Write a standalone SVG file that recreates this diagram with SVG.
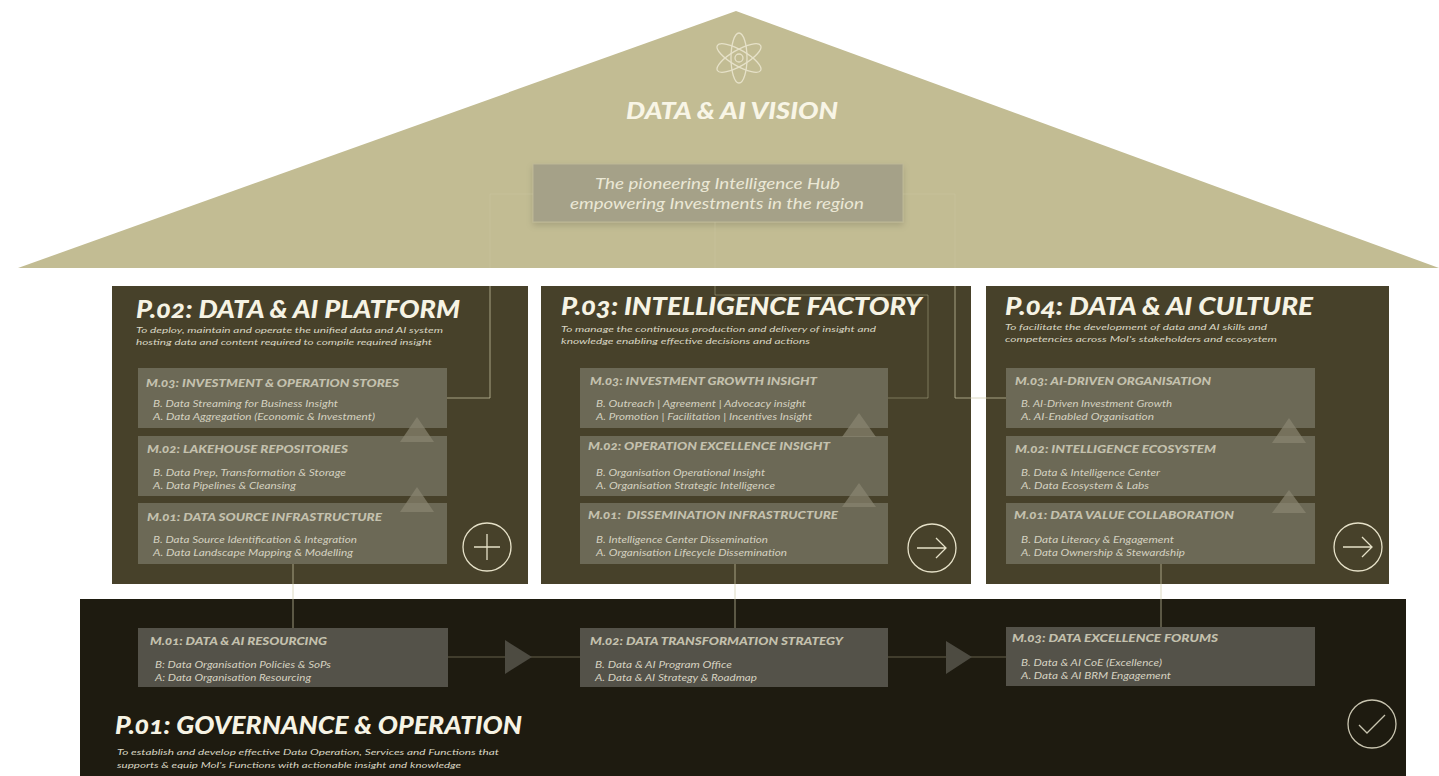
<svg xmlns="http://www.w3.org/2000/svg" width="1439" height="776" viewBox="0 0 1439 776">
<style>
text{font-family:"Lato","Open Sans","Liberation Sans",sans-serif;font-style:italic;font-feature-settings:"onum";}
.title{font-size:24.5px;font-weight:900;fill:#f6f3e4;}
.sub{font-size:8.5px;fill:#d8d5c2;}
.head{font-size:11px;font-weight:900;fill:#c4c1ae;}
.item{font-size:9.5px;fill:#d4d1c0;}
.conn{fill:none;stroke:#cfcaa8;stroke-width:1;opacity:.7;}
.faint{opacity:.4;}
.panel{fill:#47412a;}
.box{fill:#6c6956;}
.gbox{fill:#545249;}
.tri{fill:#8a8672;opacity:.7;}
.gtri{fill:#4d4b41;}
.ico{fill:none;stroke:#e6e1c8;stroke-width:1.3;}
.ico2{fill:none;stroke:#c9c5b0;stroke-width:1.3;}
</style>
<defs>
<filter id="sh" x="-10%" y="-20%" width="120%" height="150%"><feDropShadow dx="0" dy="3" stdDeviation="3" flood-color="#000" flood-opacity=".14"/></filter>
</defs>
<rect width="1439" height="776" fill="#ffffff"/>
<g id="vision">
<polygon points="736,11 1439,268 18,268" fill="#c2bc93"/>
<g class="ico" transform="translate(739,58)">
<ellipse rx="8" ry="25"/><ellipse rx="8" ry="25" transform="rotate(60)"/><ellipse rx="8" ry="25" transform="rotate(120)"/><circle r="4"/>
</g>
<text x="626" y="119" style="font-size:23px;font-weight:900;fill:#f8f5e6" textLength="212" lengthAdjust="spacingAndGlyphs">DATA &amp; AI VISION</text>
</g>
<g id="vision-box">
<rect x="533" y="164" width="370" height="58" fill="#a5a188" stroke="#bdb896" stroke-width="1" filter="url(#sh)"/>
<text x="595" y="189" style="font-size:16px;fill:#ebe8d6" textLength="245" lengthAdjust="spacingAndGlyphs">The pioneering Intelligence Hub</text>
<text x="570" y="209" style="font-size:16px;fill:#ebe8d6" textLength="294" lengthAdjust="spacingAndGlyphs">empowering Investments in the region</text>
</g>
<g id="p02"><rect class="panel" x="112" y="286" width="416" height="298"/>
<text class="title" x="136" y="318" textLength="324" lengthAdjust="spacingAndGlyphs">P.02: DATA &amp; AI PLATFORM</text>
<text class="sub" x="136" y="333" textLength="307" lengthAdjust="spacingAndGlyphs">To deploy, maintain and operate the unified data and AI system</text>
<text class="sub" x="136" y="345" textLength="296" lengthAdjust="spacingAndGlyphs">hosting data and content required to compile required insight</text>
</g>
<g id="p03"><rect class="panel" x="541" y="286" width="430" height="298"/>
<text class="title" x="561" y="315" textLength="361" lengthAdjust="spacingAndGlyphs">P.03: INTELLIGENCE FACTORY</text>
<text class="sub" x="561" y="332" textLength="315" lengthAdjust="spacingAndGlyphs">To manage the continuous production and delivery of insight and</text>
<text class="sub" x="561" y="344" textLength="249" lengthAdjust="spacingAndGlyphs">knowledge enabling effective decisions and actions</text>
</g>
<g id="p04"><rect class="panel" x="986" y="286" width="403" height="298"/>
<text class="title" x="1005" y="315" textLength="308" lengthAdjust="spacingAndGlyphs">P.04: DATA &amp; AI CULTURE</text>
<text class="sub" x="1005" y="330" textLength="262" lengthAdjust="spacingAndGlyphs">To facilitate the development of data and AI skills and</text>
<text class="sub" x="1005" y="342" textLength="272" lengthAdjust="spacingAndGlyphs">competencies across MoI's stakeholders and ecosystem</text>
</g>
<g id="p01"><rect x="80" y="599" width="1326" height="177" fill="#1e1b10"/>
<text class="title" x="115" y="734" textLength="407" lengthAdjust="spacingAndGlyphs">P.01: GOVERNANCE &amp; OPERATION</text>
<text class="sub" x="117" y="755" textLength="382" lengthAdjust="spacingAndGlyphs">To establish and develop effective Data Operation, Services and Functions that</text>
<text class="sub" x="117" y="768" textLength="344" lengthAdjust="spacingAndGlyphs">supports &amp; equip MoI's Functions with actionable  insight and knowledge</text>
</g>
<g id="connectors">
<path class="conn faint" d="M533 194H490V268M715 222V268M903 194H955V268"/>
<path class="conn" d="M490 286V398H447"/>
<path class="conn faint" d="M715 286V295H928V398H888"/>
<path class="conn" d="M955 286V398H1006"/>
<path class="conn" d="M293 564V628M735 564V628M1161 564V627"/>
<path class="conn faint" d="M447 657H580M888 657H1006"/>
<polygon class="gtri" points="505,640 532,657 505,674"/>
<polygon class="gtri" points="946,641 972,657 946,674"/>
</g>
<g id="p02-m03"><rect class="box" x="138" y="368" width="309" height="60"/>
<text class="head" x="146" y="387" textLength="253" lengthAdjust="spacingAndGlyphs">M.03: INVESTMENT &amp; OPERATION STORES</text>
<text class="item" x="153" y="407" textLength="185" lengthAdjust="spacingAndGlyphs">B. Data Streaming for Business Insight</text>
<text class="item" x="153" y="420" textLength="222" lengthAdjust="spacingAndGlyphs">A. Data Aggregation (Economic &amp; Investment)</text></g>
<g id="p02-m02"><rect class="box" x="138" y="436" width="309" height="60"/>
<text class="head" x="147" y="453" textLength="201" lengthAdjust="spacingAndGlyphs">M.02: LAKEHOUSE REPOSITORIES</text>
<text class="item" x="153" y="476" textLength="193" lengthAdjust="spacingAndGlyphs">B. Data Prep, Transformation &amp; Storage</text>
<text class="item" x="153" y="489" textLength="143" lengthAdjust="spacingAndGlyphs">A. Data Pipelines &amp; Cleansing</text></g>
<g id="p02-m01"><rect class="box" x="138" y="503" width="309" height="61"/>
<text class="head" x="147" y="521" textLength="235" lengthAdjust="spacingAndGlyphs">M.01: DATA SOURCE INFRASTRUCTURE</text>
<text class="item" x="153" y="543" textLength="204" lengthAdjust="spacingAndGlyphs">B. Data Source Identification &amp; Integration</text>
<text class="item" x="153" y="556" textLength="200" lengthAdjust="spacingAndGlyphs">A. Data Landscape Mapping &amp; Modelling</text></g>
<g id="p03-m03"><rect class="box" x="580" y="368" width="308" height="60"/>
<text class="head" x="590" y="385" textLength="227" lengthAdjust="spacingAndGlyphs">M.03: INVESTMENT GROWTH INSIGHT</text>
<text class="item" x="596" y="407" textLength="210" lengthAdjust="spacingAndGlyphs">B. Outreach | Agreement | Advocacy insight</text>
<text class="item" x="596" y="420" textLength="216" lengthAdjust="spacingAndGlyphs">A. Promotion | Facilitation | Incentives Insight</text></g>
<g id="p03-m02"><rect class="box" x="580" y="436" width="308" height="60"/>
<text class="head" x="588" y="450" textLength="242" lengthAdjust="spacingAndGlyphs">M.02: OPERATION EXCELLENCE INSIGHT</text>
<text class="item" x="596" y="476" textLength="169" lengthAdjust="spacingAndGlyphs">B. Organisation Operational Insight</text>
<text class="item" x="596" y="489" textLength="179" lengthAdjust="spacingAndGlyphs">A. Organisation Strategic Intelligence</text></g>
<g id="p03-m01"><rect class="box" x="580" y="503" width="308" height="61"/>
<text class="head" x="588" y="519" textLength="250" lengthAdjust="spacingAndGlyphs" xml:space="preserve">M.01:  DISSEMINATION INFRASTRUCTURE</text>
<text class="item" x="596" y="543" textLength="172" lengthAdjust="spacingAndGlyphs">B. Intelligence Center Dissemination</text>
<text class="item" x="596" y="556" textLength="191" lengthAdjust="spacingAndGlyphs">A. Organisation Lifecycle Dissemination</text></g>
<g id="p04-m03"><rect class="box" x="1006" y="368" width="309" height="60"/>
<text class="head" x="1015" y="385" textLength="196" lengthAdjust="spacingAndGlyphs">M.03: AI-DRIVEN ORGANISATION</text>
<text class="item" x="1021" y="407" textLength="151" lengthAdjust="spacingAndGlyphs">B. AI-Driven Investment Growth</text>
<text class="item" x="1021" y="420" textLength="133" lengthAdjust="spacingAndGlyphs">A. AI-Enabled Organisation</text></g>
<g id="p04-m02"><rect class="box" x="1006" y="436" width="309" height="60"/>
<text class="head" x="1015" y="453" textLength="201" lengthAdjust="spacingAndGlyphs">M.02: INTELLIGENCE ECOSYSTEM</text>
<text class="item" x="1021" y="476" textLength="139" lengthAdjust="spacingAndGlyphs">B. Data &amp; Intelligence Center</text>
<text class="item" x="1021" y="489" textLength="128" lengthAdjust="spacingAndGlyphs">A. Data Ecosystem &amp; Labs</text></g>
<g id="p04-m01"><rect class="box" x="1006" y="503" width="309" height="61"/>
<text class="head" x="1014" y="519" textLength="220" lengthAdjust="spacingAndGlyphs">M.01: DATA VALUE COLLABORATION</text>
<text class="item" x="1021" y="543" textLength="153" lengthAdjust="spacingAndGlyphs">B. Data Literacy &amp; Engagement</text>
<text class="item" x="1021" y="556" textLength="164" lengthAdjust="spacingAndGlyphs">A. Data Ownership &amp; Stewardship</text></g>
<g id="markers">
<polygon class="tri" points="417,417 434,442 400,442"/><polygon class="tri" points="417,487 434,512 400,512"/>
<polygon class="tri" points="859,413 876,437 842,437"/><polygon class="tri" points="859,483 876,507 842,507"/>
<polygon class="tri" points="1289,418 1306,443 1272,443"/><polygon class="tri" points="1289,490 1306,513 1272,513"/>
</g>
<g id="gov-m01"><rect class="gbox" x="138" y="628" width="310" height="59"/>
<text class="head" x="150" y="645" textLength="177" lengthAdjust="spacingAndGlyphs">M.01: DATA &amp; AI RESOURCING</text>
<text class="item" x="155" y="668" textLength="176" lengthAdjust="spacingAndGlyphs">B: Data Organisation Policies &amp; SoPs</text>
<text class="item" x="155" y="681" textLength="156" lengthAdjust="spacingAndGlyphs">A: Data Organisation Resourcing</text></g>
<g id="gov-m02"><rect class="gbox" x="580" y="628" width="308" height="59"/>
<text class="head" x="590" y="645" textLength="253" lengthAdjust="spacingAndGlyphs">M.02: DATA TRANSFORMATION STRATEGY</text>
<text class="item" x="595" y="668" textLength="137" lengthAdjust="spacingAndGlyphs">B. Data &amp; AI Program Office</text>
<text class="item" x="595" y="681" textLength="162" lengthAdjust="spacingAndGlyphs">A. Data &amp; AI Strategy &amp; Roadmap</text></g>
<g id="gov-m03"><rect class="gbox" x="1006" y="627" width="309" height="59"/>
<text class="head" x="1012" y="642" textLength="206" lengthAdjust="spacingAndGlyphs">M.03: DATA EXCELLENCE FORUMS</text>
<text class="item" x="1021" y="666" textLength="141" lengthAdjust="spacingAndGlyphs">B. Data &amp; AI CoE (Excellence)</text>
<text class="item" x="1021" y="679" textLength="150" lengthAdjust="spacingAndGlyphs">A. Data &amp; AI BRM Engagement</text></g>
<g id="icons" class="ico">
<g id="icon-plus"><circle cx="487" cy="547" r="24"/><path d="M487 534V560M474 547H500"/></g>
<g id="icon-arrow-p03"><circle cx="932" cy="548" r="24"/><path d="M917 548H946M936 538L946 548L936 558"/></g>
<g id="icon-arrow-p04"><circle cx="1358" cy="547" r="24"/><path d="M1343 547H1372M1362 537L1372 547L1362 557"/></g>
<g id="icon-check" class="ico2"><circle cx="1372" cy="724" r="24"/><path d="M1359 725L1367 733L1385 715"/></g>
</g>
</svg>
